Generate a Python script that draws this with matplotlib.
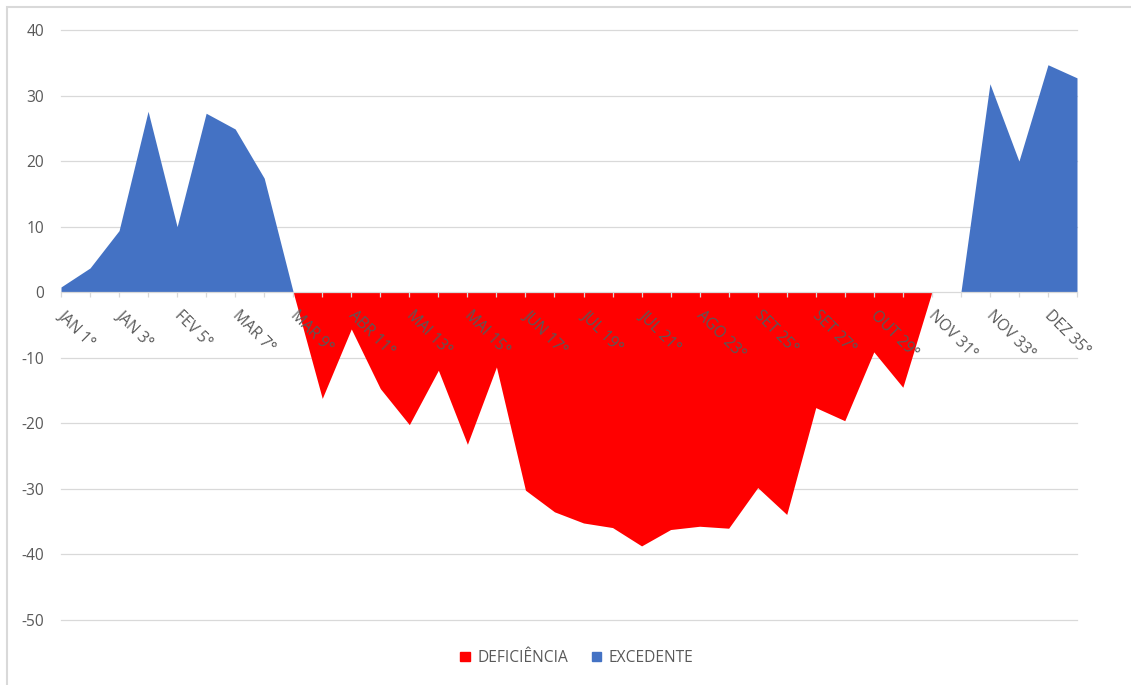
import matplotlib
matplotlib.use('Agg')
import matplotlib.pyplot as plt
import matplotlib.transforms as mtransforms
from matplotlib.patches import Patch, Rectangle
import numpy as np

plt.rcParams['font.family'] = ['Open Sans', 'DejaVu Sans']
plt.rcParams['axes.unicode_minus'] = False

# decendios do ano (36)
decendios = ['JAN 1°', 'JAN 2°', 'JAN 3°', 'FEV 4°', 'FEV 5°', 'FEV 6°',
             'MAR 7°', 'MAR 8°', 'MAR 9°', 'ABR 10°', 'ABR 11°', 'ABR 12°',
             'MAI 13°', 'MAI 14°', 'MAI 15°', 'JUN 16°', 'JUN 17°', 'JUN 18°',
             'JUL 19°', 'JUL 20°', 'JUL 21°', 'AGO 22°', 'AGO 23°', 'AGO 24°',
             'SET 25°', 'SET 26°', 'SET 27°', 'OUT 28°', 'OUT 29°', 'OUT 30°',
             'NOV 31°', 'NOV 32°', 'NOV 33°', 'DEZ 34°', 'DEZ 35°', 'DEZ 36°']

deficiencia = [0, 0, 0, 0, 0, 0, 0, 0,
               0, -16.2, -5.6, -14.7, -20.2, -11.9, -23.2, -11.4,
               -30.2, -33.5, -35.2, -35.9, -38.7, -36.2, -35.7, -36.0,
               -29.8, -33.9, -17.6, -19.6, -9.1, -14.5,
               0, 0, 0, 0, 0, 0]

excedente = [0.8, 3.7, 9.4, 27.6, 10.0, 27.3, 24.9, 17.4,
             0, 0, 0, 0, 0, 0, 0, 0, 0, 0, 0, 0, 0, 0, 0, 0,
             0, 0, 0, 0, 0, 0, 0, 0,
             31.8, 20.0, 34.7, 32.7]

yticks = [40, 30, 20, 10, 0, -10, -20, -30, -40, -50]

cor_def = '#FF0000'
cor_exc = '#4472C4'
cinza = '#D9D9D9'
texto = '#595959'
fs = 11.2

W, H = 1131, 685
fig = plt.figure(figsize=(W / 100, H / 100), dpi=100)
ax = fig.add_axes([61 / W, 1 - 620 / H, (1077 - 61) / W, (620 - 30) / H])

x = np.arange(len(decendios))

# linhas de grade atras das areas
for v in yticks:
    if v != 0:
        ax.axhline(v, color=cinza, lw=0.9, zorder=0, clip_on=False)

ax.fill_between(x, deficiencia, 0, color=cor_def, lw=0, zorder=1)
ax.fill_between(x, excedente, 0, color=cor_exc, lw=0, zorder=1)

ax.set_xlim(0, len(decendios) - 1)
ax.set_ylim(-50, 40)

# eixo das categorias cruzando no zero
for s in ['top', 'right', 'left']:
    ax.spines[s].set_visible(False)
ax.spines['bottom'].set_position(('data', 0))
ax.spines['bottom'].set_color(cinza)
ax.spines['bottom'].set_linewidth(0.9)
ax.spines['bottom'].set_zorder(3)

labels = [d if i % 2 == 0 else '' for i, d in enumerate(decendios)]
ax.set_xticks(x)
ax.set_xticklabels(labels)
ax.tick_params(axis='x', direction='out', length=3.5, width=0.9, color=cinza,
               labelcolor=texto, labelsize=fs, pad=6)
desloc = mtransforms.ScaledTranslation(5 / 100, -2 / 100, fig.dpi_scale_trans)
for lab in ax.get_xticklabels():
    lab.set_rotation(-45)
    lab.set_ha('left')
    lab.set_va('top')
    lab.set_rotation_mode('anchor')
    lab.set_transform(lab.get_transform() + desloc)

ax.set_yticks(yticks)
ax.tick_params(axis='y', length=0, labelcolor=texto, labelsize=fs, pad=12)

ax.patch.set_visible(False)

handles = [Patch(color=cor_def, label='DEFICIÊNCIA'),
           Patch(color=cor_exc, label='EXCEDENTE')]
fig.legend(handles=handles, loc='center', bbox_to_anchor=(577 / W, 1 - 658 / H),
           ncol=2, frameon=False, fontsize=fs, labelcolor=texto,
           handlelength=0.6, handleheight=0.6, handletextpad=0.5,
           columnspacing=1.5)

# borda do grafico
fig.add_artist(Rectangle((7 / W, -0.1), 1.2, 1.1 - 7 / H, transform=fig.transFigure,
                         fill=False, edgecolor=cinza, lw=1.5))

fig.savefig('out.png', dpi=100)
